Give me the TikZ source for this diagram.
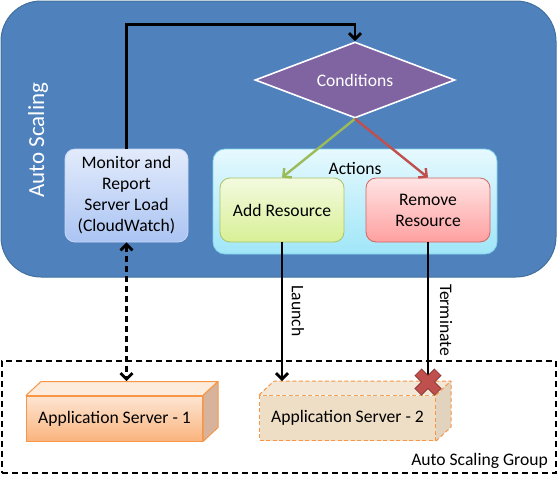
\documentclass[tikz,border=0pt]{standalone}
\usepackage{fontspec}
\setmainfont{Carlito}
\usetikzlibrary{shapes.geometric,arrows.meta,calc}
\definecolor{asblue}{HTML}{4F81BD}
\definecolor{asborder}{HTML}{41719C}
\definecolor{monTop}{HTML}{E2EBFB}
\definecolor{monBot}{HTML}{ABC4F3}
\definecolor{monBorder}{HTML}{C8D8F6}
\definecolor{actTop}{HTML}{E6F9FE}
\definecolor{actBot}{HTML}{A0E6F8}
\definecolor{actBorder}{HTML}{7FD3EA}
\definecolor{addTop}{HTML}{F3FADF}
\definecolor{addBot}{HTML}{D8F096}
\definecolor{addBorder}{HTML}{A9C46A}
\definecolor{remTop}{HTML}{FFE4E4}
\definecolor{remBot}{HTML}{FFA0A0}
\definecolor{remBorder}{HTML}{D26464}
\definecolor{condFill}{HTML}{8064A2}
\definecolor{greenArr}{HTML}{9BBB59}
\definecolor{redArr}{HTML}{C0504D}
\definecolor{redDark}{HTML}{8E3A38}
\definecolor{orBorder}{HTML}{F79646}
\definecolor{orTop}{HTML}{FDE5D2}
\definecolor{orBot}{HTML}{FAB47E}
\definecolor{orLid}{HTML}{FDEBDC}
\definecolor{orSide}{HTML}{D6B39A}
\definecolor{tanFront}{HTML}{EEDEC6}
\definecolor{tanLid}{HTML}{F3E7D8}
\definecolor{tanSide}{HTML}{E2D3BE}
\tikzset{
  box/.style={rounded corners=10pt, inner sep=2pt, align=center, line width=0.8pt},
  blackline/.style={line width=2.8pt, black},
  tip/.style={-{Straight Barb[length=6pt,width=12pt]}},
  colarrow/.style={line width=2.4pt, -{Straight Barb[length=6pt,width=12pt]}},
  front/.style={minimum width=176pt, minimum height=45pt, inner sep=0pt},
  tandash/.style={draw=orBorder, dash pattern=on 4pt off 2.5pt, line width=1pt, line join=round},
}
\begin{document}
\begin{tikzpicture}[x=1pt,y=-1pt, font=\fontsize{17.6}{21}\selectfont]
\useasboundingbox (0,0) rectangle (559,480);
% main auto scaling area
\node[draw=asborder, fill=asblue, line width=1pt, rounded corners=40pt,
  minimum width=555pt, minimum height=276pt, inner sep=0pt] (as) at (278.5,139) {};
\node[rotate=90, text=white, font=\fontsize{23}{27}\selectfont] (aslabel) at (38,140) {Auto Scaling};
% auto scaling group
\node[draw=black, dash pattern=on 6pt off 4pt, line width=1.5pt,
  minimum width=554pt, minimum height=112pt, inner sep=0pt] (asg) at (279,417) {};
\node[anchor=south east, inner sep=0pt] (asglabel) at (548,469) {Auto Scaling Group};
% monitor
\node[box, draw=monBorder, top color=monTop, bottom color=monBot,
  minimum width=123pt, minimum height=93pt] (mon) at (126.5,195.5)
  {Monitor and\\Report\\Server Load\\(CloudWatch)};
% conditions
\node[diamond, draw=white, line width=1.6pt, fill=condFill, text=white,
  minimum width=200pt, minimum height=76pt, inner sep=0pt, aspect=2.63] (cond) at (355,80) {Conditions};
% actions
\node[draw=actBorder, top color=actTop, bottom color=actBot, rounded corners=12pt,
  line width=0.8pt, minimum width=284pt, minimum height=105pt, inner sep=0pt] (act) at (355,201.5) {};
\node[inner sep=0pt] (actlabel) at (355,168) {Actions};
\node[box, draw=addBorder, top color=addTop, bottom color=addBot,
  minimum width=124pt, minimum height=64pt] (add) at (282,210) {Add Resource};
\node[box, draw=remBorder, top color=remTop, bottom color=remBot,
  minimum width=124pt, minimum height=64pt] (rem) at (428,210) {Remove\\Resource};
% arrows from conditions
\draw[colarrow, greenArr] (cond.south) -- (add.north);
\draw[colarrow, redArr] (cond.south) -- (rem.north);
% monitor to conditions
\draw[blackline, tip] (mon.north) -- ++(0,-124) -| (cond.north);
% application server 1
\node[front, draw=orBorder, line width=1pt, top color=orTop, bottom color=orBot] (app1) at (114.5,418.5) {Application Server - 1};
\filldraw[draw=orBorder, fill=orLid, line width=1pt, line join=round]
  (app1.north west) -- ++(15,-14) -- ($(app1.north east)+(15,-14)$) -- (app1.north east) -- cycle;
\filldraw[draw=orBorder, fill=orSide, line width=1pt, line join=round]
  (app1.north east) -- ++(15,-14) -- ($(app1.south east)+(15,-14)$) -- (app1.south east) -- cycle;
% application server 2
\node[front, tandash, fill=tanFront] (app2) at (347.5,418) {Application Server - 2};
\fill[tanLid] (app2.north west) -- ++(15,-14) -- ($(app2.north east)+(15,-14)$) -- (app2.north east) -- cycle;
\fill[tanSide] (app2.north east) -- ++(15,-14) -- ($(app2.south east)+(15,-14)$) -- (app2.south east) -- cycle;
\draw[tandash] (app2.north west) -- ++(15,-14) -- ($(app2.north east)+(15,-14)$) -- ($(app2.south east)+(15,-14)$) -- (app2.south east);
\draw[tandash] (app2.north east) -- ++(15,-14);
% monitor <-> app server 1
\coordinate (app1top) at (128,381);
\draw[blackline, dash pattern=on 6pt off 4pt, {Straight Barb[length=6pt,width=12pt]}-{Straight Barb[length=6pt,width=12pt]}]
  (mon.south) -- (mon.south |- app1top);
% launch
\coordinate (app2top) at (282,381);
\draw[blackline, tip] (add.south) -- (add.south |- app2top);
\node[rotate=-90, inner sep=0pt] (launch) at (298,311) {Launch};
% terminate
\coordinate (xmark) at (428,382);
\draw[blackline] (rem.south) -- (xmark);
\node[rotate=-90, inner sep=0pt] (term) at (446,320) {Terminate};
\draw[redDark, line width=10pt] ($(xmark)+(-10,-10)$) -- ($(xmark)+(10,10)$);
\draw[redDark, line width=10pt] ($(xmark)+(-10,10)$) -- ($(xmark)+(10,-10)$);
\draw[redArr, line width=8pt, shorten <=0.8pt, shorten >=0.8pt] ($(xmark)+(-10,-10)$) -- ($(xmark)+(10,10)$);
\draw[redArr, line width=8pt, shorten <=0.8pt, shorten >=0.8pt] ($(xmark)+(-10,10)$) -- ($(xmark)+(10,-10)$);
\end{tikzpicture}
\end{document}
